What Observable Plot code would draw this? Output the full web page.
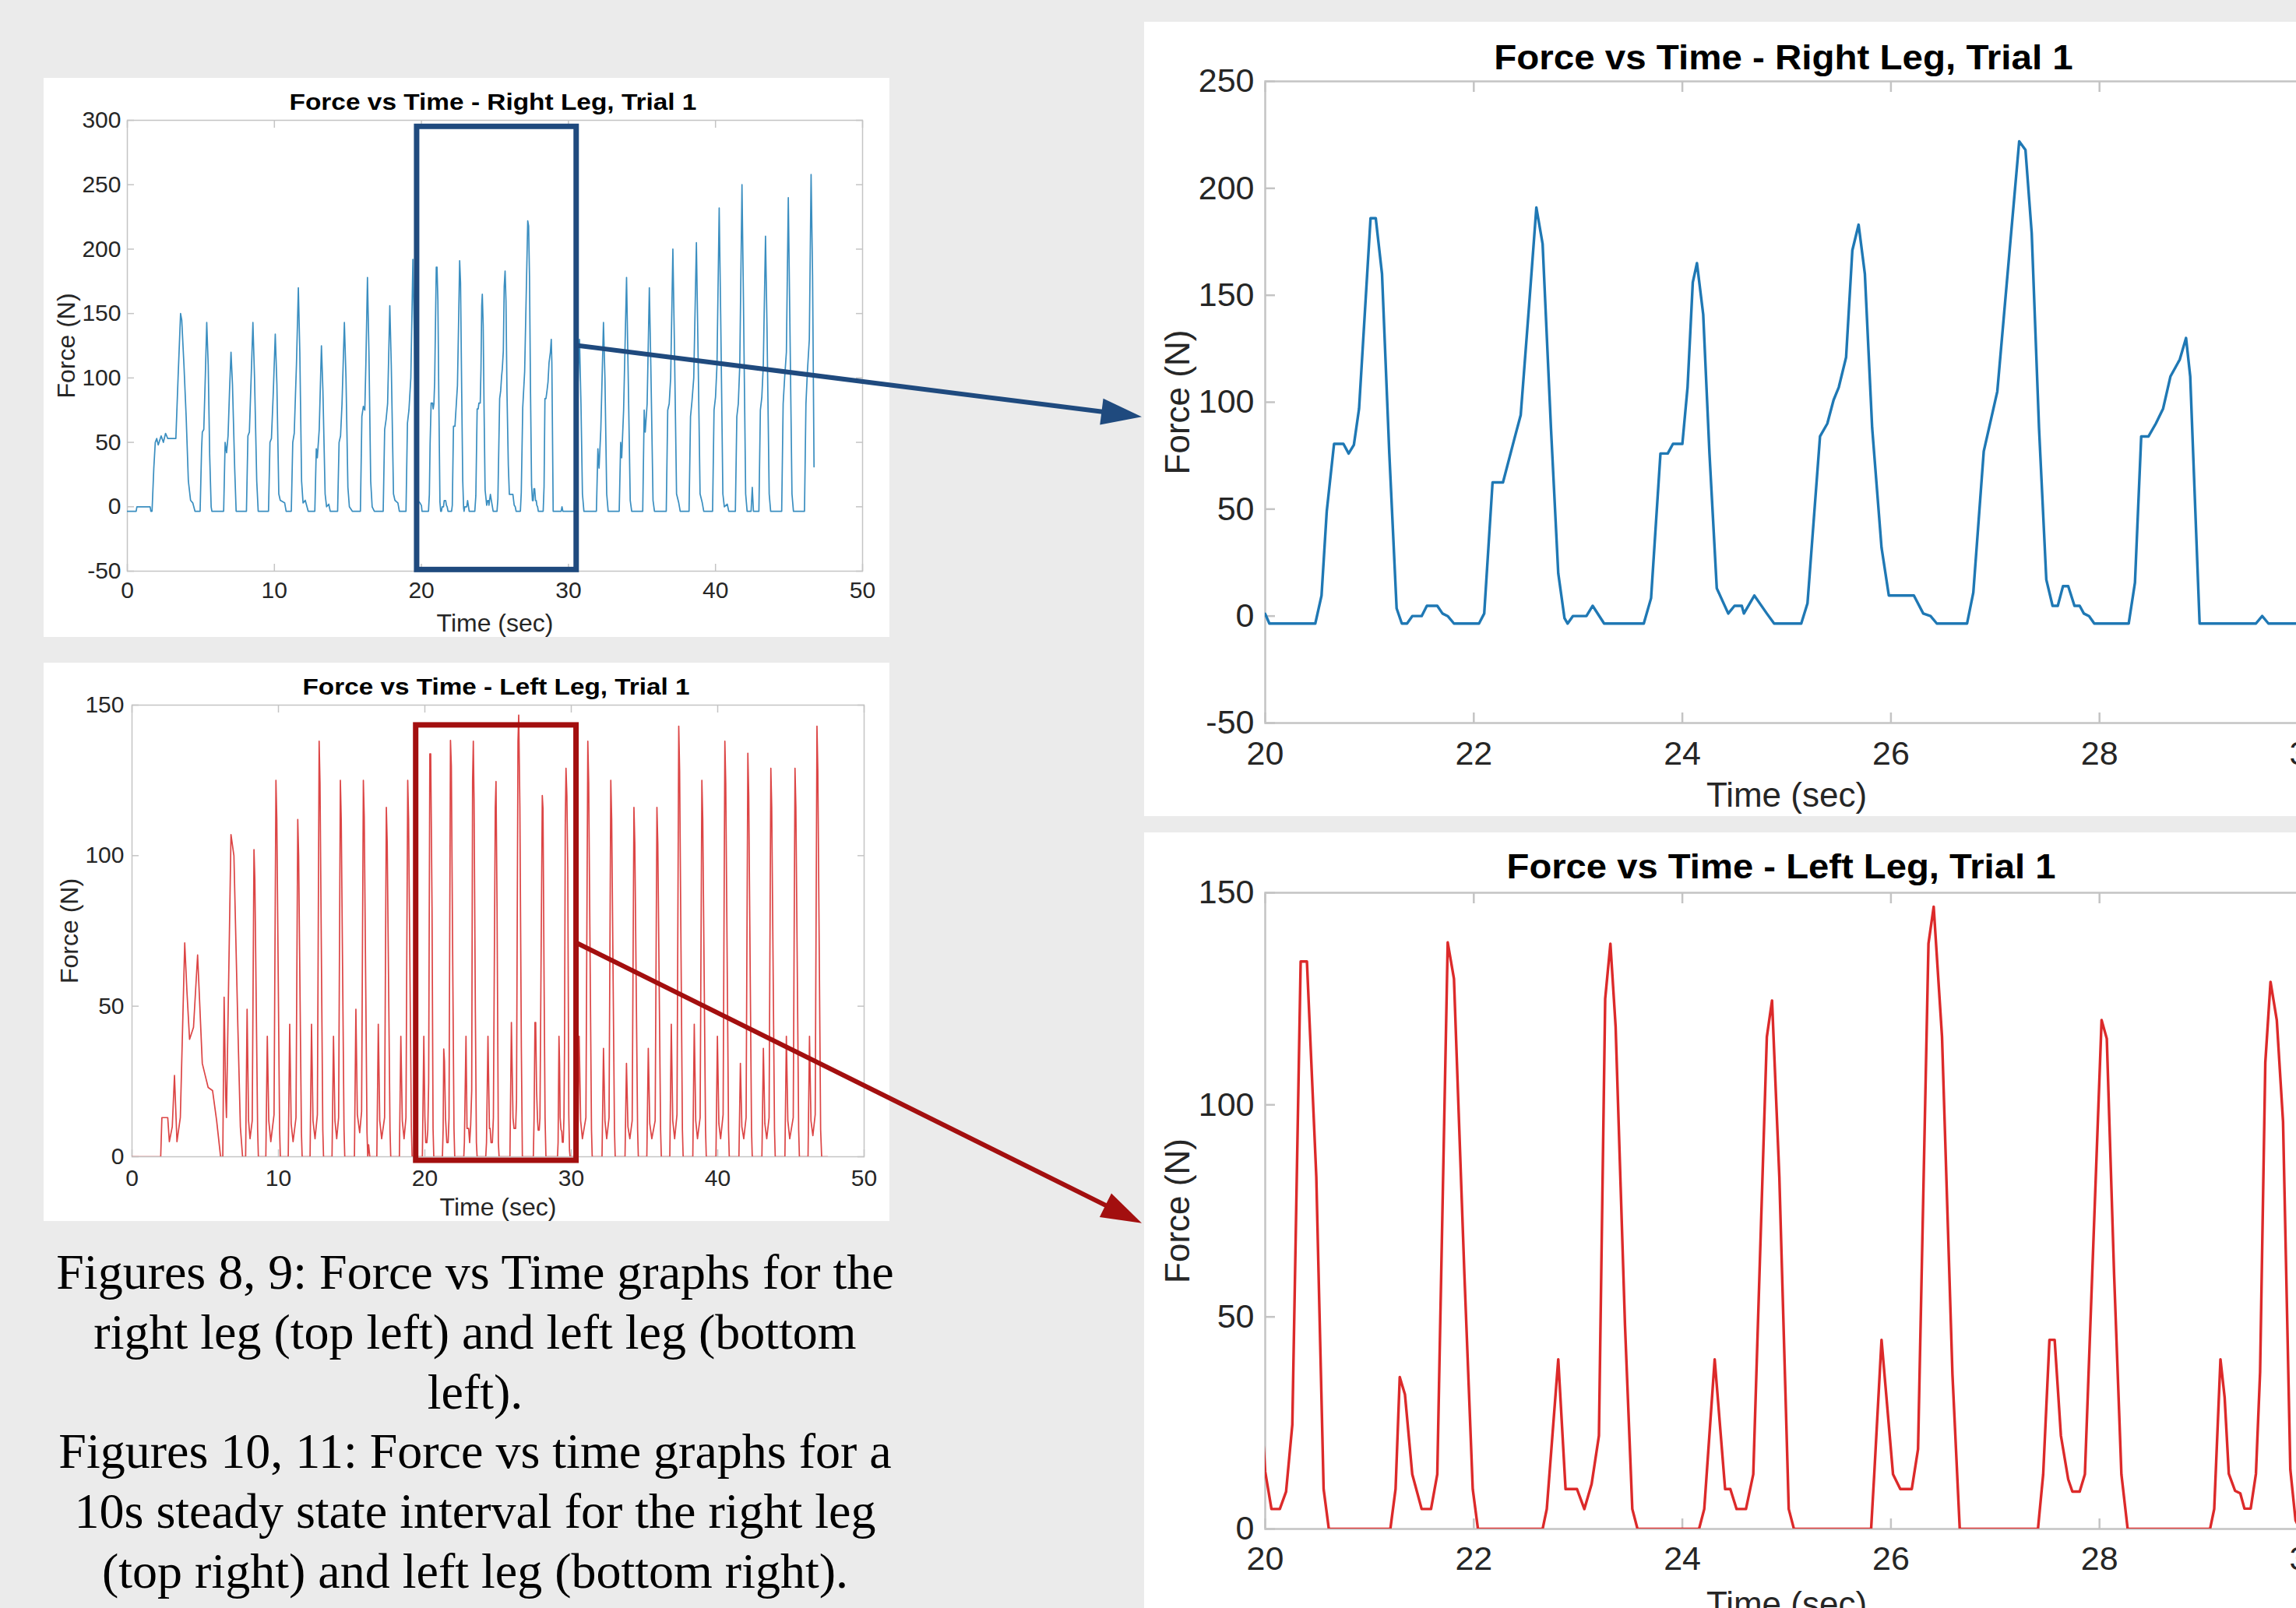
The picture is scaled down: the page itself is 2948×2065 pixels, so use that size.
<!DOCTYPE html>
<html><head><meta charset="utf-8">
<script src="https://cdn.jsdelivr.net/npm/d3@7"></script>
<script src="https://cdn.jsdelivr.net/npm/@observablehq/plot@0.6"></script>
<style>
html,body{margin:0;padding:0;width:2948px;height:2065px;overflow:hidden;background:#ebebeb;}
.panel{position:absolute;background:#fff;overflow:hidden;}
.title{position:absolute;white-space:nowrap;font-family:"Liberation Sans",Arial,sans-serif;font-weight:bold;color:#000;transform-origin:center center;}
#caption{position:absolute;left:0;width:1220px;top:1596px;text-align:center;font-family:"Liberation Serif","Times New Roman",serif;font-size:64px;line-height:76.8px;color:#000;}
#overlay{position:absolute;left:0;top:0;width:2948px;height:2065px;pointer-events:none;}
</style></head><body>
<div id="p1" class="panel" style="left:56px;top:100px;width:1086px;height:718px"></div>
<div id="p2" class="panel" style="left:56px;top:851px;width:1086px;height:717px"></div>
<div id="p3" class="panel" style="left:1469px;top:28px;width:1521px;height:1020px"></div>
<div id="p4" class="panel" style="left:1469px;top:1069px;width:1521px;height:1040px"></div>
<div id="caption"></div>
<svg id="overlay"></svg>
<script>
// ---- data (time s, force N) ----
const rightLeg = [
[0,-3.5],[0.6,-3.5],[0.65,0],[1.55,0],[1.6,-3.5],[1.68,-3.5],[1.8,30],[1.9,50],[2.0,53],[2.1,48],[2.3,55],[2.45,50],[2.6,57],[2.75,53],[3.3,53],[3.45,100],[3.62,150],[3.7,145],[3.85,110],[4.0,70],[4.15,20],[4.3,5],[4.45,3],[4.6,-3.5],
[4.95,-3.5],[5.05,45],[5.1,58],[5.2,60],[5.3,100],[5.4,143],[5.5,110],[5.6,40],[5.7,0],[5.75,-3.5],
[6.55,-3.5],[6.65,50],[6.75,42],[6.85,55],[6.95,90],[7.05,120],[7.15,95],[7.3,30],[7.4,-3.5],
[8.1,-3.5],[8.2,55],[8.3,58],[8.42,100],[8.54,143],[8.65,100],[8.8,20],[8.9,-3.5],
[9.6,-3.5],[9.7,50],[9.8,53],[9.93,90],[10.06,134],[10.17,95],[10.3,10],[10.4,5],[10.7,3],[10.8,-3.5],
[11.15,-3.5],[11.25,50],[11.35,57],[11.5,110],[11.63,170],[11.73,120],[11.85,20],[11.95,3],[12.1,5],[12.3,-3.5],
[12.75,-3.5],[12.85,45],[12.92,38],[13.05,60],[13.2,125],[13.3,90],[13.45,10],[13.55,0],[13.7,2],[13.8,-3.5],
[14.3,-3.5],[14.4,50],[14.5,55],[14.6,80],[14.76,143],[14.87,100],[15.0,15],[15.1,0],[15.3,-3.5],
[15.85,-3.5],[15.95,70],[16.05,78],[16.15,75],[16.22,110],[16.33,178],[16.43,120],[16.55,20],[16.65,0],[16.8,-3.5],
[17.4,-3.5],[17.5,60],[17.6,68],[17.7,80],[17.85,156],[17.95,110],[18.1,10],[18.2,5],[18.4,3],[18.5,-3.5],
[18.95,-3.5],[19.05,65],[19.15,75],[19.28,100],[19.42,192],[19.52,130],[19.65,20],[19.75,5],[19.9,3],[20.0,1],
[20.04,-3.5],[20.48,-3.5],[20.54,9.6],[20.59,49],[20.66,80.5],[20.75,80.5],[20.8,76],[20.85,80],[20.9,97],[21.01,186],[21.06,186],[21.12,160],[21.19,76],[21.26,3.6],[21.31,-3.5],[21.36,-3.5],[21.41,0],[21.5,0],[21.55,4.8],[21.65,4.8],[21.7,1.2],[21.75,0],[21.81,-3.5],
[22.05,-3.5],[22.1,1.2],[22.18,62.5],[22.28,62.5],[22.39,83],[22.45,94],[22.53,145],[22.6,191],[22.66,174],[22.74,88],[22.81,20],[22.87,-1],[22.9,-3.5],[22.95,0],[23.08,0],[23.14,4.8],[23.25,-3.5],
[23.63,-3.5],[23.7,8.4],[23.79,76],[23.86,76],[23.91,80.5],[24.0,80.5],[24.05,107],[24.1,156],[24.14,165],[24.2,141],[24.26,76],[24.33,13],[24.44,1.2],[24.5,4.8],[24.57,4.8],[24.59,1.2],[24.69,9.6],[24.81,1.2],[24.88,-3.5],
[25.14,-3.5],[25.2,6],[25.32,84],[25.39,90],[25.45,101],[25.5,107],[25.57,121],[25.63,171],[25.69,183],[25.75,160],[25.82,88],[25.91,32],[25.98,9.6],[26.22,9.6],[26.31,1.2],[26.38,0],[26.44,-3.5],
[26.73,-3.5],[26.79,11],[26.89,77],[27.02,105],[27.14,172],[27.23,222],[27.29,218],[27.35,179],[27.42,88],[27.49,17],[27.55,4.8],[27.6,4.8],[27.65,14],[27.7,14],[27.76,4.8],[27.81,4.8],[27.85,1.2],[27.9,0],[27.95,-3.5],
[28.28,-3.5],[28.34,15.6],[28.4,84],[28.47,84],[28.54,90],[28.61,97],[28.68,112],[28.77,120],[28.83,130],[28.87,112],[28.96,-3.5],[29.5,-3.5],[29.56,0],[29.62,-3.5],[30.0,-3.5],
[30.4,-3.5],[30.5,60],[30.6,80],[30.75,130],[30.85,80],[30.95,10],[31.05,-3.5],
[31.9,-3.5],[32.0,45],[32.08,30],[32.2,60],[32.38,143],[32.48,100],[32.6,10],[32.7,-3.5],
[33.45,-3.5],[33.55,50],[33.62,38],[33.75,75],[33.95,178],[34.05,110],[34.2,5],[34.3,-3.5],
[35.05,-3.5],[35.15,75],[35.22,58],[35.35,80],[35.5,170],[35.6,110],[35.75,5],[35.85,-3.5],
[36.65,-3.5],[36.75,75],[36.85,80],[36.95,100],[37.1,200],[37.2,130],[37.35,10],[37.5,3],[37.6,-3.5],
[38.2,-3.5],[38.3,70],[38.4,82],[38.52,100],[38.7,205],[38.8,130],[38.95,10],[39.1,3],[39.2,-3.5],
[39.8,-3.5],[39.9,75],[40.0,85],[40.1,110],[40.25,232],[40.35,150],[40.5,10],[40.6,0],[40.8,2],[40.9,-3.5],
[41.35,-3.5],[41.45,70],[41.55,80],[41.65,110],[41.8,250],[41.9,160],[42.05,10],[42.15,-3.5],
[42.42,-3.5],[42.5,15],[42.58,-3.5],
[42.95,-3.5],[43.05,75],[43.15,85],[43.25,110],[43.4,210],[43.5,140],[43.65,10],[43.75,-3.5],
[44.5,-3.5],[44.6,80],[44.7,100],[44.82,120],[44.95,240],[45.05,150],[45.2,10],[45.3,-3.5],
[46.05,-3.5],[46.15,80],[46.25,105],[46.38,130],[46.5,258],[46.6,180],[46.7,31]
];
const leftLeg = [
[0,0],[1.96,0],[2.04,13],[2.44,13],[2.55,5],[2.75,10],[2.9,27],[3.07,5],[3.3,13],[3.6,71],[3.75,55],[3.93,39],[4.2,43],[4.48,67],[4.8,31],[5.0,27],[5.2,23],[5.5,22],[5.78,12],[6.05,0],[6.2,0],[6.29,53],[6.4,20],[6.45,13],[6.76,107],[6.96,100],[7.23,43],[7.4,10],[7.55,0],
[7.76,0],[7.86,49],[7.96,12],[8.06,6],[8.21,12],[8.33,102],[8.39,92],[8.58,9],[8.63,0],
[9.14,0],[9.24,40],[9.34,12],[9.48,5],[9.7,14],[9.83,125],[9.89,112],[10.08,9],[10.13,0],
[10.67,0],[10.77,44],[10.87,11],[11.0,5],[11.2,13],[11.32,112],[11.38,100],[11.57,8],[11.62,0],
[12.16,0],[12.26,44],[12.36,12],[12.5,6],[12.66,14],[12.78,138],[12.84,124],[13.03,9],[13.08,0],
[13.66,0],[13.76,40],[13.86,12],[13.98,6],[14.11,13],[14.23,125],[14.29,112],[14.48,9],[14.53,0],
[15.19,0],[15.29,49],[15.39,14],[15.55,8],[15.68,15],[15.8,125],[15.86,113],[16.05,8],[16.1,0],[16.16,4],[16.24,0],
[16.72,0],[16.82,44],[16.92,12],[17.05,6],[17.25,13],[17.37,116],[17.43,104],[17.62,9],[17.67,0],
[18.26,0],[18.36,40],[18.46,12],[18.58,6],[18.71,13],[18.83,125],[18.89,112],[19.08,9],[19.13,0],
[19.83,0],[19.93,40],[20.0,13.5],[20.06,4.7],[20.14,4.7],[20.2,8.8],[20.26,24.6],[20.34,133.8],[20.4,133.8],[20.49,83],[20.56,9.4],[20.61,0],
[21.2,0],[21.25,9.4],[21.29,35.8],[21.34,31.7],[21.41,12.9],[21.5,4.7],[21.59,4.7],[21.65,12.9],[21.75,138.3],[21.81,129.7],[21.91,60],[21.99,9.4],[22.04,0],
[22.66,0],[22.7,4.7],[22.81,40],[22.88,9.4],[22.99,9.4],[23.06,4.7],[23.13,10.6],[23.2,22],[23.26,125],[23.31,138],[23.36,118.5],[23.45,48],[23.52,4.7],[23.57,0],
[24.16,0],[24.21,4.7],[24.31,40],[24.41,9.4],[24.46,9.4],[24.52,4.7],[24.61,4.7],[24.68,12.9],[24.81,116],[24.86,124.6],[24.93,83],[25.02,4.7],[25.07,0],
[25.81,0],[25.84,12.9],[25.91,44.6],[26.02,12.9],[26.09,9.4],[26.2,9.4],[26.26,18.8],[26.36,138],[26.41,146.7],[26.49,116],[26.59,36.4],[26.66,0],
[27.41,0],[27.46,12.9],[27.52,44.6],[27.57,44.6],[27.63,22],[27.7,11.7],[27.74,8.8],[27.81,8.8],[27.86,12.9],[27.93,60],[28.02,120],[28.07,115.6],[28.14,60],[28.21,12.9],[28.27,0],
[29.06,0],[29.1,4.7],[29.16,40],[29.2,31],[29.24,13],[29.3,9],[29.35,8.4],[29.39,4.8],[29.45,4.8],[29.5,13],[29.54,37],[29.59,110],[29.64,129],[29.7,120],[29.76,96],[29.83,14],[29.88,2],[29.92,0],
[30.44,0],[30.54,40],[30.64,12],[30.76,6],[31.0,13],[31.13,138],[31.19,124],[31.38,9],[31.43,0],
[32.1,0],[32.2,36],[32.3,12],[32.42,6],[32.58,13],[32.7,125],[32.76,112],[32.95,9],[33.0,0],
[33.67,0],[33.77,31],[33.87,10],[34.0,6],[34.16,12],[34.28,116],[34.34,104],[34.53,9],[34.58,0],
[35.16,0],[35.26,36],[35.36,11],[35.5,6],[35.73,12],[35.85,116],[35.91,104],[36.1,9],[36.15,0],
[36.73,0],[36.83,44],[36.93,12],[37.06,6],[37.22,14],[37.34,143],[37.4,128],[37.59,9],[37.64,0],
[38.3,0],[38.4,44],[38.5,12],[38.62,6],[38.8,13],[38.92,125],[38.98,112],[39.17,9],[39.22,0],
[39.88,0],[39.98,40],[40.08,11],[40.2,6],[40.37,14],[40.49,138],[40.55,124],[40.74,9],[40.79,0],
[41.45,0],[41.55,31],[41.65,10],[41.78,6],[41.94,13],[42.06,134],[42.12,120],[42.31,9],[42.36,0],
[43.02,0],[43.12,36],[43.22,11],[43.35,6],[43.51,13],[43.63,129],[43.69,116],[43.88,9],[43.93,0],
[44.59,0],[44.69,40],[44.79,12],[44.92,6],[45.16,13],[45.28,129],[45.34,116],[45.53,9],[45.58,0],
[46.17,0],[46.27,40],[46.37,12],[46.5,7],[46.66,14],[46.78,143],[46.84,128],[47.03,9],[47.1,0],[47.5,0]
];
const fullTimeTicks = [0,10,20,30,40,50];
const zoomTimeTicks = [20,22,24,26,28,30];
const rightFullForceTicks = [-50,0,50,100,150,200,250,300];
const leftFullForceTicks = [0,50,100,150];
const rightZoomForceTicks = [-50,0,50,100,150,200,250];
const leftZoomForceTicks = [0,50,100,150];
const rightBox = {t:[19.7,30.55], f:[-49,295]};
const leftBox = {t:[19.4,30.35], f:[-1.3,143.3]};
const titleRight = "Force vs Time - Right Leg, Trial 1";
const titleLeft = "Force vs Time - Left Leg, Trial 1";
const xLabel = "Time (sec)";
const yLabel = "Force (N)";
const captionLines = [
 "Figures 8, 9: Force vs Time graphs for the",
 "right leg (top left) and left leg (bottom",
 "left).",
 "Figures 10, 11: Force vs time graphs for a",
 "10s steady state interval for the right leg",
 "(top right) and left leg (bottom right)."
];

// ---- drawing ----
const rows = a => a.map(([t,f]) => ({t, f}));
const GRAY = "#c4c4c4", INK = "#262626";
const fmt = d => String(d);
function forcePlot(o) {
  const marks = [
    Plot.frame({stroke: GRAY, strokeWidth: o.axisW}),
    Plot.axisX(o.xTicks, {anchor:"bottom", tickSize:o.tick, dy:-o.tick, fill:"none", stroke:GRAY, strokeWidth:o.axisW, label:null}),
    Plot.axisX(o.xTicks, {anchor:"top", tickSize:o.tick, dy:o.tick, fill:"none", stroke:GRAY, strokeWidth:o.axisW, label:null}),
    Plot.axisY(o.yTicks, {anchor:"left", tickSize:o.tick, dx:o.tick, fill:"none", stroke:GRAY, strokeWidth:o.axisW, label:null}),
    Plot.axisY(o.yTicks, {anchor:"right", tickSize:o.tick, dx:-o.tick, fill:"none", stroke:GRAY, strokeWidth:o.axisW, label:null}),
    Plot.lineY(rows(o.data), {x:"t", y:"f", stroke:o.color, strokeWidth:o.lineW, clip:true, strokeLinejoin:"round"})
  ];
  if (o.box) marks.push(Plot.rect([o.box], {x1:d=>d.t[0], x2:d=>d.t[1], y1:d=>d.f[0], y2:d=>d.f[1], fill:"none", stroke:o.boxColor, strokeWidth:o.boxW}));
  marks.push(
    Plot.axisX(o.xTicks, {anchor:"bottom", tickSize:0, tickPadding:o.xPad, tickFormat:fmt, label:null, fill:INK}),
    Plot.axisY(o.yTicks, {anchor:"left", tickSize:0, tickPadding:o.yPad, tickFormat:fmt, label:null, fill:INK}),
    Plot.text([xLabel], {text:d=>d, frameAnchor:"bottom", dy:o.xLab, textAnchor:"middle", lineAnchor:"middle", fontSize:o.labFs, fill:INK}),
    Plot.text([yLabel], {text:d=>d, frameAnchor:"left", dx:-o.yLab, rotate:-90, textAnchor:"middle", lineAnchor:"middle", fontSize:o.labFs, fill:INK})
  );
  return Plot.plot({
    width:o.W, height:o.H, marginLeft:o.mL, marginRight:o.mR, marginTop:o.mT, marginBottom:o.mB,
    x:{domain:o.xDomain}, y:{domain:o.yDomain},
    style:{fontFamily:'"Liberation Sans", Arial, sans-serif', fontSize:o.fs+"px", color:INK, background:"transparent", overflow:"visible"},
    marks
  });
}
const cfg = {
  p1:{data:rightLeg, color:"#3a8ec0", lineW:1.7, xDomain:[0,50], yDomain:[-50,300], xTicks:fullTimeTicks, yTicks:rightFullForceTicks,
      W:1086, H:718, mL:107, mR:35, mT:54, mB:85, tick:9, axisW:1.5, fs:30, xPad:13, yPad:8, xLab:67, yLab:78, labFs:32,
      box:rightBox, boxColor:"#1f4a7e", boxW:7},
  p2:{data:leftLeg, color:"#dc4545", lineW:1.7, xDomain:[0,50], yDomain:[0,150], xTicks:fullTimeTicks, yTicks:leftFullForceTicks,
      W:1086, H:717, mL:113, mR:33, mT:54, mB:83, tick:9, axisW:1.5, fs:30, xPad:16, yPad:10, xLab:65, yLab:80, labFs:32,
      box:leftBox, boxColor:"#a30f0f", boxW:7},
  p3:{data:rightLeg, color:"#1f78b4", lineW:3.4, xDomain:[20,30], yDomain:[-50,250], xTicks:zoomTimeTicks, yTicks:rightZoomForceTicks,
      W:1521, H:1020, mL:155, mR:27, mT:76, mB:120, tick:13, axisW:2.5, fs:43, xPad:23, yPad:14, xLab:93, yLab:112, labFs:44},
  p4:{data:leftLeg, color:"#dc2a2a", lineW:3.4, xDomain:[20,30], yDomain:[0,150], xTicks:zoomTimeTicks, yTicks:leftZoomForceTicks,
      W:1521, H:1040, mL:155, mR:27, mT:77, mB:146, tick:13, axisW:2.5, fs:43, xPad:22, yPad:14, xLab:97, yLab:112, labFs:44}
};
const plots = {};
for (const id of Object.keys(cfg)) {
  plots[id] = forcePlot(cfg[id]);
  document.getElementById(id).appendChild(plots[id]);
}
// titles
const titles = [
  {text:titleRight, cx:633, cy:131, fs:29, w:523},
  {text:titleLeft, cx:637, cy:882, fs:30, w:497},
  {text:titleRight, cx:2290, cy:73, fs:45, w:743},
  {text:titleLeft, cx:2287, cy:1112, fs:45, w:705}
];
for (const t of titles) {
  const d = document.createElement("div");
  d.className = "title";
  d.textContent = t.text;
  d.style.fontSize = t.fs + "px";
  d.style.lineHeight = t.fs + "px";
  d.style.left = t.cx + "px";
  d.style.top = t.cy + "px";
  document.body.appendChild(d);
  const k = t.w / d.offsetWidth;
  d.style.transform = `translate(-50%,-50%) scaleX(${k})`;
}
// caption
const cap = document.getElementById("caption");
for (const line of captionLines) { const d = document.createElement("div"); d.textContent = line; cap.appendChild(d); }
// arrows from zoom boxes to the zoomed panels
const ov = d3.select("#overlay");
function arrow(x0,y0,x1,y1,color){
  const dx=x1-x0, dy=y1-y0, L=Math.hypot(dx,dy), ux=dx/L, uy=dy/L, hl=52, hw=17;
  const bx=x1-ux*hl, by=y1-uy*hl;
  ov.append("line").attr("x1",x0).attr("y1",y0).attr("x2",bx+ux*3).attr("y2",by+uy*3).attr("stroke",color).attr("stroke-width",6);
  ov.append("polygon").attr("points",`${x1},${y1} ${bx-uy*hw},${by+ux*hw} ${bx+uy*hw},${by-ux*hw}`).attr("fill",color);
}
const pos = id => { const r = document.getElementById(id).getBoundingClientRect(); return {x:r.left, y:r.top}; };
const P1=pos("p1"), P2=pos("p2"), P3=pos("p3"), P4=pos("p4");
arrow(P1.x+plots.p1.scale("x").apply(rightBox.t[1]), P1.y+plots.p1.scale("y").apply(125),
      P3.x-3, P3.y+plots.p3.scale("y").apply(93), "#1f4a7e");
arrow(P2.x+plots.p2.scale("x").apply(leftBox.t[1]), P2.y+plots.p2.scale("y").apply(71),
      P4.x-3, P4.y+plots.p4.scale("y").apply(72), "#a30f0f");
</script>
</body></html>
